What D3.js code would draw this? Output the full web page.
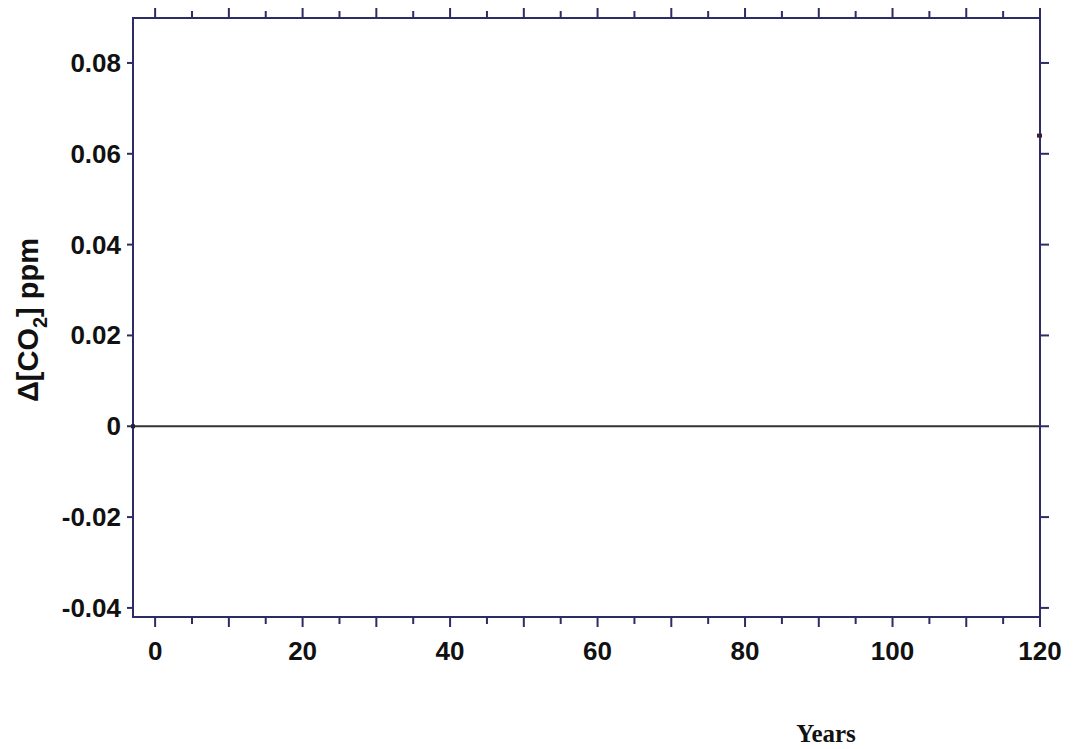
<!DOCTYPE html>
<html>
<head>
    <meta charset="utf-8" />
    <title>CO2 change vs years</title>
    <style>
        html, body {
            margin: 0;
            padding: 0;
            background-color: #fff;
        }
        .tick-label {
            font-family: 'Liberation Sans', Arial, sans-serif;
            font-weight: bold;
            fill: #111;
        }
    </style>
</head>
<body>
    <div class="canvas"></div>
    <script src="https://d3js.org/d3.v7.min.js"></script>
    <script>
        // data
        var years = [-3, 0, 20, 40, 60, 80, 100, 120];
        var deltaCO2 = [0, 0, 0, 0, 0, 0, 0, 0];
        var markerYears = [120];
        var markerValues = [0.064];
        var xTickLabels = [0, 20, 40, 60, 80, 100, 120];
        var yTickLabels = [-0.04, -0.02, 0, 0.02, 0.04, 0.06, 0.08];

        var width = 1073, height = 749;
        var axisColor = "#2c2c66";

        var svg = d3.select(".canvas")
            .append("svg")
            .attr("width", width)
            .attr("height", height);

        var x = d3.scaleLinear().domain([-3, 120]).range([133, 1040]);
        var y = d3.scaleLinear().domain([-0.042, 0.0899]).range([617, 18]);

        var xMinor = d3.range(0, 121, 5);

        // frame
        svg.append("rect")
            .attr("x", x(-3))
            .attr("y", y(0.0899))
            .attr("width", x(120) - x(-3))
            .attr("height", y(-0.042) - y(0.0899))
            .attr("fill", "none")
            .attr("stroke", axisColor)
            .attr("stroke-width", 2);

        // bottom ticks (long every 10, short every 5)
        svg.selectAll(".xb").data(xMinor).enter()
            .append("line")
            .attr("x1", function(d){ return x(d); })
            .attr("x2", function(d){ return x(d); })
            .attr("y1", y(-0.042))
            .attr("y2", function(d){ return y(-0.042) + (d % 10 == 0 ? 10 : 7); })
            .attr("stroke", axisColor)
            .attr("stroke-width", 2);

        // top ticks
        svg.selectAll(".xt").data(xMinor).enter()
            .append("line")
            .attr("x1", function(d){ return x(d); })
            .attr("x2", function(d){ return x(d); })
            .attr("y1", y(0.0899))
            .attr("y2", function(d){ return y(0.0899) - (d % 10 == 0 ? 10 : 7); })
            .attr("stroke", axisColor)
            .attr("stroke-width", 2);

        // left ticks
        svg.selectAll(".yl").data(yTickLabels).enter()
            .append("line")
            .attr("x1", x(-3) - 6)
            .attr("x2", x(-3))
            .attr("y1", function(d){ return y(d); })
            .attr("y2", function(d){ return y(d); })
            .attr("stroke", axisColor)
            .attr("stroke-width", 2);

        // right ticks
        svg.selectAll(".yr").data(yTickLabels).enter()
            .append("line")
            .attr("x1", x(120))
            .attr("x2", x(120) + 9)
            .attr("y1", function(d){ return y(d); })
            .attr("y2", function(d){ return y(d); })
            .attr("stroke", axisColor)
            .attr("stroke-width", 2);

        // tick labels
        svg.selectAll(".xlab").data(xTickLabels).enter()
            .append("text")
            .attr("class", "tick-label")
            .attr("x", function(d){ return x(d); })
            .attr("y", 660)
            .attr("text-anchor", "middle")
            .style("font-size", "26px")
            .text(function(d){ return d; });

        svg.selectAll(".ylab").data(yTickLabels).enter()
            .append("text")
            .attr("class", "tick-label")
            .attr("x", 121)
            .attr("y", function(d){ return y(d) + 9; })
            .attr("text-anchor", "end")
            .style("font-size", "26px")
            .text(function(d){ return d == 0 ? "0" : d3.format(".2f")(d).replace("\u2212", "-"); });

        // zero line
        var line = d3.line()
            .x(function(d, i){ return x(years[i]); })
            .y(function(d){ return y(d); });

        svg.append("path")
            .datum(deltaCO2)
            .attr("d", line)
            .attr("fill", "none")
            .attr("stroke", "#333")
            .attr("stroke-width", 2);

        svg.append("rect")
            .attr("x", x(-3) - 2)
            .attr("y", y(0) - 2)
            .attr("width", 4)
            .attr("height", 4)
            .attr("fill", "#223");

        svg.selectAll(".mk").data(markerValues).enter()
            .append("rect")
            .attr("x", function(d, i){ return x(markerYears[i]) - 3; })
            .attr("y", function(d){ return y(d) - 2; })
            .attr("width", 5)
            .attr("height", 4)
            .attr("fill", "#3a1f2e");

        // axis titles
        var yt = svg.append("text")
            .attr("class", "tick-label")
            .attr("transform", "translate(38,320) rotate(-90)")
            .attr("text-anchor", "middle")
            .style("font-size", "29px");
        yt.append("tspan").text("\u0394[CO");
        yt.append("tspan").attr("dy", 9).style("font-size", "20px").text("2");
        yt.append("tspan").attr("dy", -9).text("] ppm");

        svg.append("text")
            .attr("x", 826)
            .attr("y", 742)
            .attr("text-anchor", "middle")
            .style("font-family", "'Liberation Serif', 'Times New Roman', serif")
            .style("font-weight", "bold")
            .style("font-size", "25px")
            .attr("fill", "#111")
            .text("Years");
    </script>
</body>
</html>
